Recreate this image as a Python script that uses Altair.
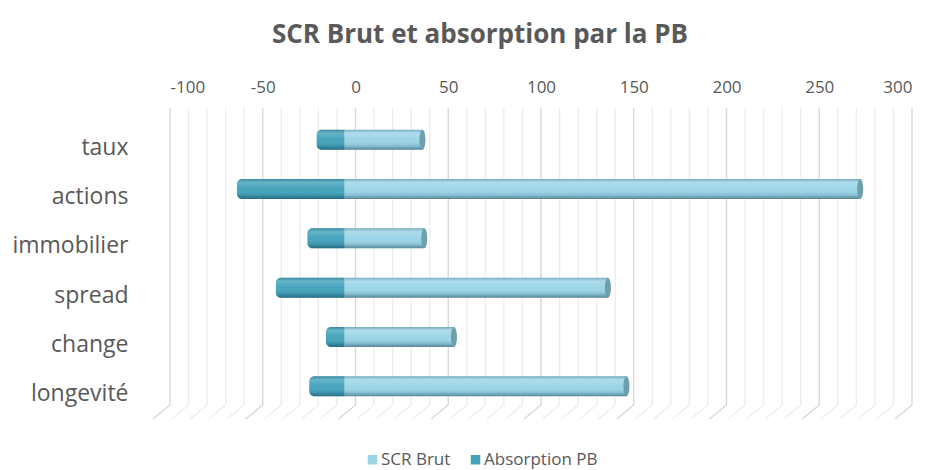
import altair as alt
import pandas as pd

categories = ["taux", "actions", "immobilier", "spread", "change", "longevité"]
scr_brut = [42, 278, 43, 142, 59, 152]
absorption_pb = [-15, -58, -20, -37, -10, -19]
series_names = ["SCR Brut", "Absorption PB"]
series_colors = ["#9CD5E8", "#45A4BC"]
x_ticks = list(range(-100, 301, 10))

rows = []
for c, v in zip(categories, scr_brut):
    rows.append({"category": c, "series": "SCR Brut", "value": v})
for c, v in zip(categories, absorption_pb):
    rows.append({"category": c, "series": "Absorption PB", "value": v})
bars_df = pd.DataFrame(rows)
ticks_df = pd.DataFrame({"tick": x_ticks})

GRAY = "#595959"
FONT = "Open Sans"
MAJOR = "#D6D6D6"
MINOR = "#ECECEC"

x_axis = alt.Axis(
    orient="top",
    values=x_ticks,
    labelExpr="datum.value % 50 === 0 ? '' + datum.value : ''",
    labelFontSize=17,
    labelColor=GRAY,
    labelFont=FONT,
    labelPadding=14,
    ticks=False,
    domain=False,
    grid=False,
    title=None,
)
x_scale = alt.Scale(domain=[-100, 300], nice=False, zero=False)
y_enc = alt.Y(
    "category:N",
    sort=categories,
    scale=alt.Scale(domain=categories, range=[13, 309]),
    axis=alt.Axis(
        title=None,
        labelFontSize=23,
        labelColor=GRAY,
        labelFont=FONT,
        labelPadding=42,
        ticks=False,
        domain=False,
        grid=False,
    ),
)
tick_color = alt.condition("datum.tick % 50 === 0", alt.value(MAJOR), alt.value(MINOR))

grid = alt.Chart(ticks_df).mark_rule(strokeWidth=1.3).encode(
    x=alt.X("tick:Q", scale=x_scale, axis=x_axis),
    y=alt.value(-2),
    y2=alt.value(295),
    color=tick_color,
)
floor = alt.Chart(ticks_df).mark_rule(x2Offset=-17, strokeWidth=1.3).encode(
    x=alt.X("tick:Q", scale=x_scale, axis=x_axis),
    x2="tick:Q",
    y=alt.value(295),
    y2=alt.value(309),
    color=tick_color,
)

legend = alt.Legend(
    title=None,
    orient="none",
    legendX=194,
    legendY=341,
    direction="horizontal",
    symbolType="square",
    symbolSize=90,
    symbolStrokeWidth=0,
    labelFontSize=17,
    labelFont=FONT,
    labelColor=GRAY,
    columnPadding=16,
    labelOffset=0,
)
color_enc = alt.Color(
    "series:N",
    scale=alt.Scale(domain=series_names, range=series_colors),
    legend=legend,
)

shade = alt.LinearGradient(
    gradient="linear",
    x1=0, y1=0, x2=0, y2=1,
    stops=[
        alt.GradientStop(color="rgba(0,40,60,0.25)", offset=0),
        alt.GradientStop(color="rgba(255,255,255,0.18)", offset=0.18),
        alt.GradientStop(color="rgba(255,255,255,0.0)", offset=0.5),
        alt.GradientStop(color="rgba(0,40,60,0.12)", offset=0.8),
        alt.GradientStop(color="rgba(0,40,60,0.45)", offset=1),
    ],
)

base = alt.Chart(bars_df).transform_calculate(base="0")


def bar_layer(series, radius, fill=None):
    props = dict(size=20, xOffset=-11, x2Offset=-11, yOffset=-8,
                 cornerRadiusTopLeft=radius, cornerRadiusBottomLeft=radius)
    if fill is not None:
        props["color"] = fill
    enc = dict(
        x=alt.X("value:Q", scale=x_scale, axis=x_axis),
        x2="base:Q",
        y=y_enc,
    )
    if fill is None:
        enc["color"] = color_enc
    return base.transform_filter(f"datum.series === '{series}'").mark_bar(**props).encode(**enc)


light = bar_layer("SCR Brut", 0)
dark = bar_layer("Absorption PB", 5)
light_shade = bar_layer("SCR Brut", 0, shade)
dark_shade = bar_layer("Absorption PB", 5, shade)

ellipse = "M0,-1A0.3,1,0,1,1,0,1A0.3,1,0,1,1,0,-1Z"
caps = alt.Chart(bars_df).transform_filter("datum.series === 'SCR Brut'").mark_point(
    shape=ellipse, filled=True, size=400, color="#6E9FAD", opacity=1, xOffset=-11, yOffset=-8
).encode(
    x=alt.X("value:Q", scale=x_scale, axis=x_axis),
    y=y_enc,
)

chart = alt.layer(grid, floor, light, dark, light_shade, dark_shade, caps).properties(
    width=742,
    height=295,
    background="white",
    autosize=alt.AutoSizeParams(type="none"),
    padding={"left": 162, "top": 102, "right": 10, "bottom": 70},
    title=alt.TitleParams(
        "SCR Brut et absorption par la PB",
        anchor="middle",
        dx=-61,
        offset=30,
        fontSize=26,
        font=FONT,
        fontWeight="bold",
        color=GRAY,
    ),
).configure_view(strokeWidth=0, stroke=None)

chart.save("out.html", embed_options={"renderer": "svg", "actions": False})
